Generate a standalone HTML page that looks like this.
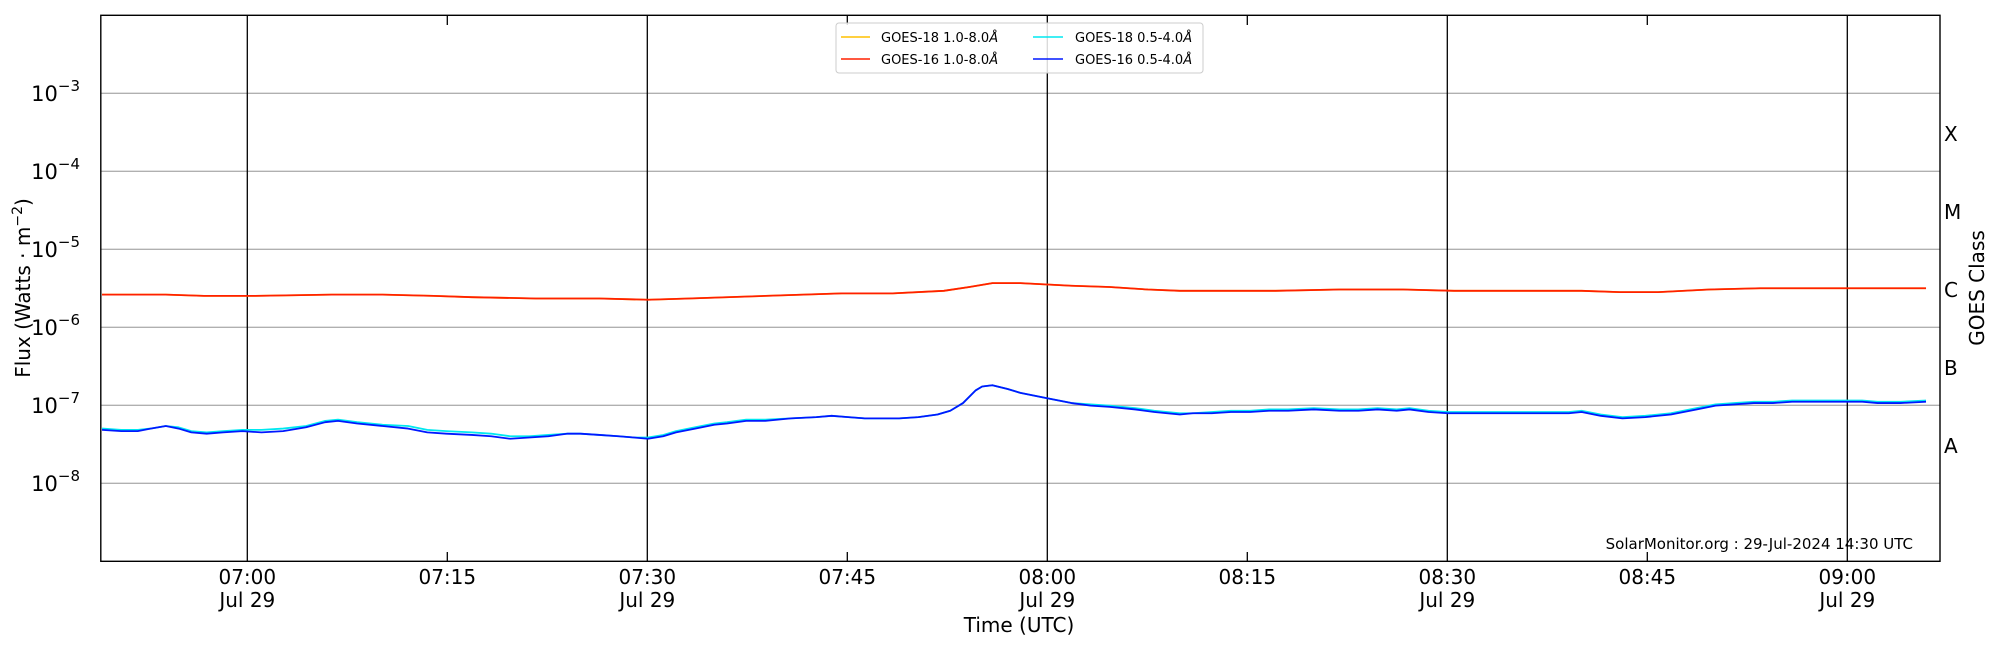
<!DOCTYPE html>
<html><head><meta charset="utf-8"><style>
html,body{margin:0;padding:0;background:#fff;}
svg{display:block;font-family:"DejaVu Sans","Liberation Sans",sans-serif;}
</style></head><body>
<svg width="2000" height="650" viewBox="0 0 2000 650" xmlns="http://www.w3.org/2000/svg">
<rect width="2000" height="650" fill="#fff"/>
<g stroke="#b0b0b0" stroke-width="1.3">
<line x1="101" y1="93.3" x2="1940" y2="93.3"/>
<line x1="101" y1="171.3" x2="1940" y2="171.3"/>
<line x1="101" y1="249.3" x2="1940" y2="249.3"/>
<line x1="101" y1="327.3" x2="1940" y2="327.3"/>
<line x1="101" y1="405.3" x2="1940" y2="405.3"/>
<line x1="101" y1="483.3" x2="1940" y2="483.3"/>
</g>
<g stroke="#000" stroke-width="1.3">
<line x1="247.3" y1="15.3" x2="247.3" y2="561.3"/>
<line x1="647.3" y1="15.3" x2="647.3" y2="561.3"/>
<line x1="1047.3" y1="15.3" x2="1047.3" y2="561.3"/>
<line x1="1447.3" y1="15.3" x2="1447.3" y2="561.3"/>
<line x1="1847.3" y1="15.3" x2="1847.3" y2="561.3"/>
<line x1="447.3" y1="561.3" x2="447.3" y2="552"/><line x1="447.3" y1="15.3" x2="447.3" y2="25"/>
<line x1="847.3" y1="561.3" x2="847.3" y2="552"/><line x1="847.3" y1="15.3" x2="847.3" y2="25"/>
<line x1="1247.3" y1="561.3" x2="1247.3" y2="552"/><line x1="1247.3" y1="15.3" x2="1247.3" y2="25"/>
<line x1="1647.3" y1="561.3" x2="1647.3" y2="552"/><line x1="1647.3" y1="15.3" x2="1647.3" y2="25"/>
</g>
<g id="yt" stroke="#000" stroke-width="1"></g>
<g transform="scale(1.27551)" fill="none" stroke-linejoin="round" stroke-width="1.4">
<polyline stroke="#ffc000" points="80,231 100,231 130,231 160,232 200,232 260,231 300,231 340,232 370,233 420,234 470,234 508,235 540,234 600,232 660,230 700,230 740,228 760,225 778,222 800,222 840,224 870,225 900,227 925,228 960,228 1000,228 1050,227 1100,227 1140,228 1200,228 1240,228 1270,229 1300,229 1340,227 1380,226 1420,226 1460,226 1480,226 1510,226"/>
<polyline stroke="#ff2000" points="80,231 100,231 130,231 160,232 200,232 260,231 300,231 340,232 370,233 420,234 470,234 508,235 540,234 600,232 660,230 700,230 740,228 760,225 778,222 800,222 840,224 870,225 900,227 925,228 960,228 1000,228 1050,227 1100,227 1140,228 1200,228 1240,228 1270,229 1300,229 1340,227 1380,226 1420,226 1460,226 1480,226 1510,226"/>
<polyline stroke="#00e8f0" points="80,336 95,337 108,337 118,336 130,334 140,335 150,338 162,339 175,338 190,337 205,337 222,336 240,334 255,330 265,329 280,331 300,333 320,334 335,337 350,338 370,339 385,340 400,342 415,342 430,341 445,340 455,340 470,341 485,342 497,343 508,343 520,341 530,338 545,335 560,332 570,331 585,329 600,329 620,328 640,327 652,326 665,327 678,328 690,328 705,328 720,327 735,325 745,322 755,316 765,306 770,303 778,302 790,305 800,308 820,312 840,316 855,317 870,318 890,320 905,322 915,323 925,324 935,324 950,323 965,322 980,322 995,321 1010,321 1030,320 1050,321 1065,321 1080,320 1095,321 1105,320 1120,322 1135,323 1150,323 1165,323 1180,323 1200,323 1215,323 1230,323 1240,322 1255,325 1272,327 1290,326 1310,324 1330,320 1345,317 1360,316 1375,315 1390,315 1405,314 1420,314 1435,314 1448,314 1460,314 1472,315 1490,315 1510,314"/>
<polyline stroke="#0018ff" points="80,337 95,338 108,338 118,336 130,334 140,336 150,339 162,340 175,339 190,338 205,339 222,338 240,335 255,331 265,330 280,332 300,334 320,336 335,339 350,340 370,341 385,342 400,344 415,343 430,342 445,340 455,340 470,341 485,342 497,343 508,344 520,342 530,339 545,336 560,333 570,332 585,330 600,330 620,328 640,327 652,326 665,327 678,328 690,328 705,328 720,327 735,325 745,322 755,316 765,306 770,303 778,302 790,305 800,308 820,312 840,316 855,318 870,319 890,321 905,323 915,324 925,325 935,324 950,324 965,323 980,323 995,322 1010,322 1030,321 1050,322 1065,322 1080,321 1095,322 1105,321 1120,323 1135,324 1150,324 1165,324 1180,324 1200,324 1215,324 1230,324 1240,323 1255,326 1272,328 1290,327 1310,325 1330,321 1345,318 1360,317 1375,316 1390,316 1405,315 1420,315 1435,315 1448,315 1460,315 1472,316 1490,316 1510,315"/>
</g>
<rect x="100.8" y="15.3" width="1839.2" height="546" fill="none" stroke="#000" stroke-width="1.4"/>
<rect x="836" y="23" width="367" height="50" rx="3" fill="#fff" fill-opacity="0.85" stroke="#ccc" stroke-width="1"/>
<g stroke-width="1.4">
<line x1="841" y1="37" x2="870" y2="37" stroke="#ffc000"/>
<line x1="841" y1="59" x2="870" y2="59" stroke="#ff2000"/>
<line x1="1033" y1="37" x2="1063" y2="37" stroke="#00e8f0"/>
<line x1="1033" y1="59" x2="1063" y2="59" stroke="#0018ff"/>
</g>
<g font-size="13" fill="#000">
<text x="881" y="42">GOES-18 1.0-8.0<tspan font-style="italic">Å</tspan></text>
<text x="881" y="64">GOES-16 1.0-8.0<tspan font-style="italic">Å</tspan></text>
<text x="1075" y="42">GOES-18 0.5-4.0<tspan font-style="italic">Å</tspan></text>
<text x="1075" y="64">GOES-16 0.5-4.0<tspan font-style="italic">Å</tspan></text>
</g>
<g font-size="21" fill="#000" text-anchor="end">
<text x="80" y="101">10<tspan font-size="15" dy="-10">−3</tspan></text>
<text x="80" y="179">10<tspan font-size="15" dy="-10">−4</tspan></text>
<text x="80" y="257">10<tspan font-size="15" dy="-10">−5</tspan></text>
<text x="80" y="335">10<tspan font-size="15" dy="-10">−6</tspan></text>
<text x="80" y="413">10<tspan font-size="15" dy="-10">−7</tspan></text>
<text x="80" y="491">10<tspan font-size="15" dy="-10">−8</tspan></text>
</g>
<g font-size="20" fill="#000" text-anchor="middle">
<text x="247.3" y="584">07:00</text><text x="247.3" y="607">Jul 29</text>
<text x="447.3" y="584">07:15</text>
<text x="647.3" y="584">07:30</text><text x="647.3" y="607">Jul 29</text>
<text x="847.3" y="584">07:45</text>
<text x="1047.3" y="584">08:00</text><text x="1047.3" y="607">Jul 29</text>
<text x="1247.3" y="584">08:15</text>
<text x="1447.3" y="584">08:30</text><text x="1447.3" y="607">Jul 29</text>
<text x="1647.3" y="584">08:45</text>
<text x="1847.3" y="584">09:00</text><text x="1847.3" y="607">Jul 29</text>
<text x="1019" y="632">Time (UTC)</text>
</g>
<text transform="translate(30,288) rotate(-90)" font-size="20" text-anchor="middle">Flux (Watts · m<tspan font-size="14" dy="-8">−2</tspan><tspan dy="8">)</tspan></text>
<text transform="translate(1984,288) rotate(-90)" font-size="20" text-anchor="middle">GOES Class</text>
<g font-size="20" fill="#000">
<text x="1944" y="141">X</text>
<text x="1944" y="219">M</text>
<text x="1944" y="297">C</text>
<text x="1944" y="375">B</text>
<text x="1944" y="453">A</text>
</g>
<text x="1913" y="549" font-size="15" text-anchor="end">SolarMonitor.org : 29-Jul-2024 14:30 UTC</text>
<script>
(function(){var g=document.getElementById('yt');var s='';
for(var d=-9;d<-2;d++){for(var m=1;m<10;m++){var v=d+Math.log10(m);if(v>-2)continue;var y=15.3+(-2-v)*78;if(y>561)continue;var L=(m==1)?10:6;
s+='<line x1="100.8" y1="'+y+'" x2="'+(100.8+L)+'" y2="'+y+'"/>';
s+='<line x1="1940" y1="'+y+'" x2="'+(1940-L)+'" y2="'+y+'"/>';}}
g.innerHTML=s;})();
</script>
</svg>
</body></html>
